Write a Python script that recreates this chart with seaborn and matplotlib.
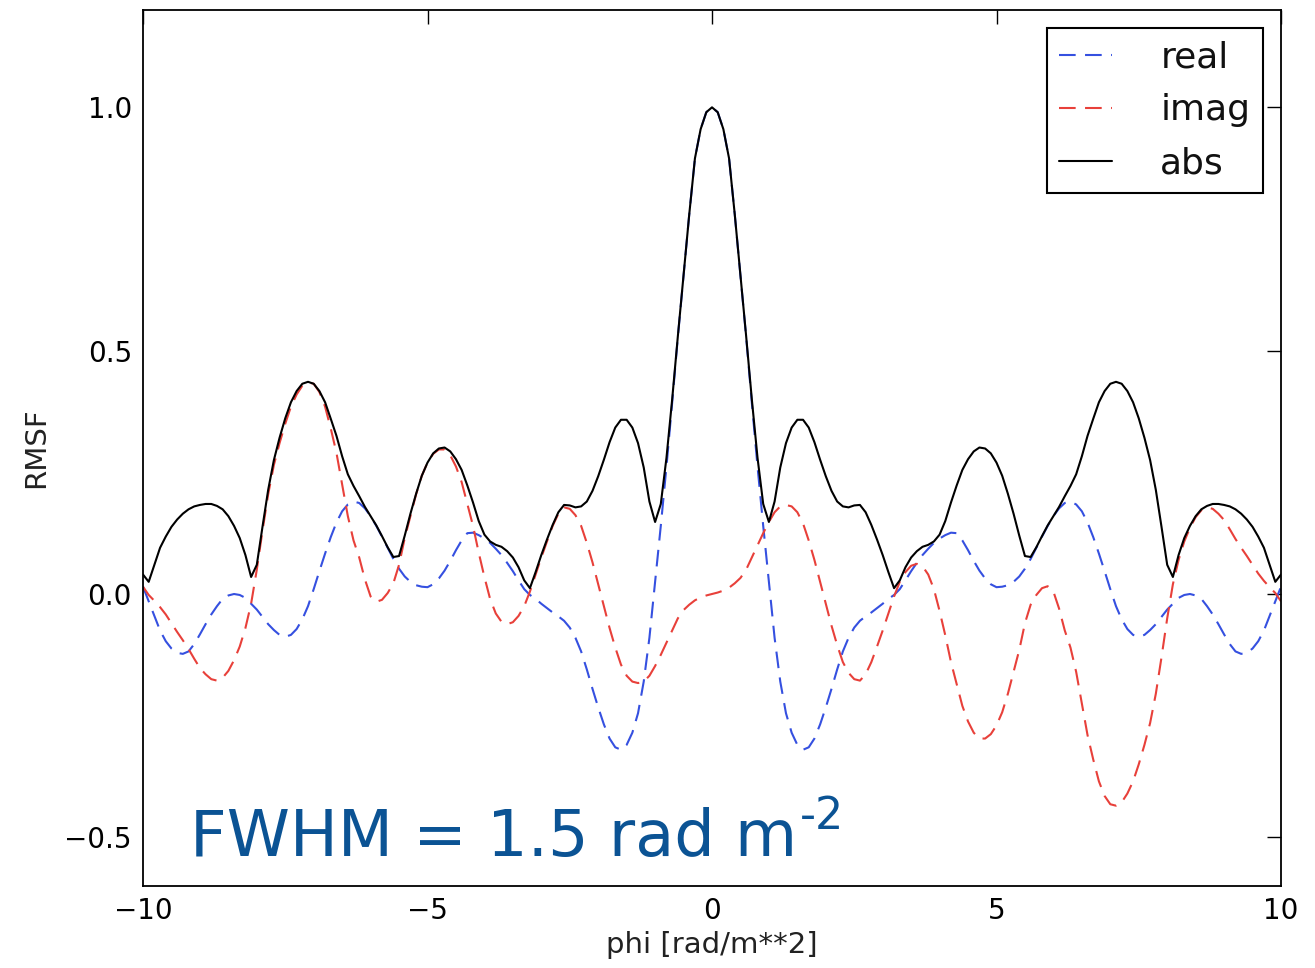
import numpy as np
import pandas as pd
import matplotlib
matplotlib.use("Agg")
import matplotlib.pyplot as plt
import seaborn as sns

# ---- data ----
phi = np.round(np.linspace(-10.0, 10.0, 201), 1)

real = [
    0.015, -0.015, -0.045, -0.075, -0.097, -0.112, -0.121, -0.123, -0.118, -0.103,
    -0.083, -0.062, -0.042, -0.025, -0.010, -0.003, 0.000, -0.002, -0.008, -0.020,
    -0.032, -0.047, -0.062, -0.074, -0.084, -0.088, -0.084, -0.072, -0.052, -0.025,
    0.010, 0.047, 0.083, 0.117, 0.147, 0.170, 0.184, 0.190, 0.187, 0.176,
    0.160, 0.140, 0.118, 0.095, 0.072, 0.052, 0.036, 0.025, 0.018, 0.015,
    0.014, 0.020, 0.032, 0.048, 0.068, 0.090, 0.110, 0.125, 0.126, 0.121,
    0.114, 0.105, 0.093, 0.080, 0.064, 0.047, 0.028, 0.010, -0.002, -0.010,
    -0.020, -0.029, -0.038, -0.046, -0.055, -0.069, -0.090, -0.118, -0.155, -0.195,
    -0.233, -0.268, -0.297, -0.315, -0.320, -0.310, -0.285, -0.245, -0.180, -0.090,
    0.025, 0.140, 0.262, 0.393, 0.528, 0.654, 0.780, 0.895, 0.955, 0.990,
    1.000,
    0.990, 0.955, 0.895, 0.780, 0.654, 0.528, 0.393, 0.262, 0.140, 0.025,
    -0.090, -0.180, -0.245, -0.285, -0.310, -0.320, -0.315, -0.297, -0.268, -0.233,
    -0.195, -0.155, -0.118, -0.090, -0.069, -0.055, -0.046, -0.038, -0.029, -0.020,
    -0.010, -0.002, 0.010, 0.028, 0.047, 0.064, 0.080, 0.093, 0.105, 0.114,
    0.121, 0.126, 0.125, 0.110, 0.090, 0.068, 0.048, 0.032, 0.020, 0.014,
    0.015, 0.018, 0.025, 0.036, 0.052, 0.072, 0.095, 0.118, 0.140, 0.160,
    0.176, 0.187, 0.190, 0.184, 0.170, 0.147, 0.117, 0.083, 0.047, 0.010,
    -0.025, -0.052, -0.072, -0.084, -0.088, -0.084, -0.074, -0.062, -0.047, -0.032,
    -0.020, -0.008, -0.002, 0.000, -0.003, -0.010, -0.025, -0.042, -0.062, -0.083,
    -0.103, -0.118, -0.123, -0.121, -0.112, -0.097, -0.075, -0.045, -0.015, 0.015,
]

imag = [
    0.015, -0.002, -0.014, -0.027, -0.042, -0.060, -0.078, -0.095, -0.113, -0.133,
    -0.152, -0.165, -0.175, -0.178, -0.172, -0.158, -0.136, -0.108, -0.070, -0.020,
    0.050, 0.130, 0.205, 0.265, 0.310, 0.350, 0.385, 0.410, 0.428, 0.435,
    0.432, 0.415, 0.385, 0.340, 0.290, 0.225, 0.160, 0.110, 0.075, 0.030,
    -0.005, -0.016, -0.012, 0.002, 0.022, 0.060, 0.115, 0.160, 0.205, 0.243,
    0.270, 0.288, 0.297, 0.297, 0.285, 0.262, 0.230, 0.185, 0.140, 0.085,
    0.035, -0.010, -0.040, -0.057, -0.062, -0.058, -0.045, -0.025, 0.005, 0.040,
    0.075, 0.108, 0.140, 0.165, 0.178, 0.175, 0.162, 0.140, 0.105, 0.065,
    0.020, -0.025, -0.070, -0.110, -0.145, -0.168, -0.180, -0.183, -0.180, -0.168,
    -0.148, -0.125, -0.100, -0.075, -0.050, -0.033, -0.022, -0.013, -0.007, -0.003,
    0.000,
    0.003, 0.007, 0.013, 0.022, 0.033, 0.050, 0.075, 0.100, 0.125, 0.148,
    0.168, 0.180, 0.183, 0.180, 0.168, 0.145, 0.110, 0.070, 0.025, -0.020,
    -0.065, -0.105, -0.140, -0.162, -0.175, -0.178, -0.165, -0.140, -0.108, -0.075,
    -0.040, -0.005, 0.025, 0.045, 0.058, 0.062, 0.057, 0.040, 0.010, -0.035,
    -0.085, -0.140, -0.185, -0.230, -0.262, -0.285, -0.297, -0.297, -0.288, -0.270,
    -0.243, -0.205, -0.160, -0.115, -0.060, -0.022, -0.002, 0.012, 0.016, 0.005,
    -0.030, -0.075, -0.110, -0.160, -0.225, -0.290, -0.340, -0.385, -0.415, -0.432,
    -0.435, -0.428, -0.410, -0.385, -0.350, -0.310, -0.265, -0.205, -0.130, -0.050,
    0.020, 0.070, 0.108, 0.136, 0.158, 0.172, 0.178, 0.175, 0.165, 0.152,
    0.133, 0.113, 0.095, 0.078, 0.060, 0.042, 0.027, 0.014, 0.002, -0.015,
]

absval = [
    0.040, 0.025, 0.060, 0.095, 0.118, 0.138, 0.153, 0.165, 0.174, 0.180,
    0.183, 0.185, 0.185, 0.181, 0.174, 0.160, 0.140, 0.115, 0.080, 0.035,
    0.060, 0.138, 0.214, 0.275, 0.321, 0.361, 0.394, 0.417, 0.432, 0.436,
    0.432, 0.417, 0.394, 0.360, 0.325, 0.283, 0.246, 0.222, 0.201, 0.179,
    0.160, 0.141, 0.119, 0.096, 0.076, 0.078, 0.120, 0.165, 0.206, 0.243,
    0.270, 0.289, 0.299, 0.301, 0.293, 0.277, 0.255, 0.223, 0.188, 0.150,
    0.122, 0.108, 0.101, 0.097, 0.088, 0.075, 0.055, 0.028, 0.012, 0.045,
    0.080, 0.112, 0.142, 0.168, 0.183, 0.182, 0.178, 0.180, 0.190, 0.212,
    0.242, 0.276, 0.312, 0.342, 0.358, 0.358, 0.342, 0.310, 0.260, 0.190,
    0.148, 0.185, 0.280, 0.400, 0.530, 0.655, 0.780, 0.895, 0.955, 0.990,
    1.000,
    0.990, 0.955, 0.895, 0.780, 0.655, 0.530, 0.400, 0.280, 0.185, 0.148,
    0.190, 0.260, 0.310, 0.342, 0.358, 0.358, 0.342, 0.312, 0.276, 0.242,
    0.212, 0.190, 0.180, 0.178, 0.182, 0.183, 0.168, 0.142, 0.112, 0.080,
    0.045, 0.012, 0.028, 0.055, 0.075, 0.088, 0.097, 0.101, 0.108, 0.122,
    0.150, 0.188, 0.223, 0.255, 0.277, 0.293, 0.301, 0.299, 0.289, 0.270,
    0.243, 0.206, 0.165, 0.120, 0.078, 0.076, 0.096, 0.119, 0.141, 0.160,
    0.179, 0.201, 0.222, 0.246, 0.283, 0.325, 0.360, 0.394, 0.417, 0.432,
    0.436, 0.432, 0.417, 0.394, 0.361, 0.321, 0.275, 0.214, 0.138, 0.060,
    0.035, 0.080, 0.115, 0.140, 0.160, 0.174, 0.181, 0.185, 0.185, 0.183,
    0.180, 0.174, 0.165, 0.153, 0.138, 0.118, 0.095, 0.060, 0.025, 0.040,
]

series_labels = ["real", "imag", "abs"]
x_ticks = [-10, -5, 0, 5, 10]
y_ticks = [-0.5, 0.0, 0.5, 1.0]
annotation = "FWHM = 1.5 rad m"
annotation_sup = "-2"

df = pd.DataFrame({"phi": phi, "real": real, "imag": imag, "abs": absval})

# ---- style ----
sns.set_theme(style="white")
plt.rcParams["font.family"] = ["DejaVu Sans"]

fig = plt.figure(figsize=(13.15, 9.68), dpi=100)
ax = fig.add_axes([143 / 1315, 1 - 886 / 968, (1281 - 143) / 1315, (886 - 10) / 968])

dash = (0, (8, 4.5))
sns.lineplot(data=df, x="phi", y="real", ax=ax, color="#3550e0", lw=1.5,
             linestyle=dash, label=series_labels[0])
sns.lineplot(data=df, x="phi", y="imag", ax=ax, color="#e8403a", lw=1.5,
             linestyle=dash, label=series_labels[1])
sns.lineplot(data=df, x="phi", y="abs", ax=ax, color="black", lw=1.5,
             label=series_labels[2])

ax.set_xlim(-10, 10)
ax.set_ylim(-0.6, 1.2)
ax.set_xticks(x_ticks)
ax.set_yticks(y_ticks)
ax.set_xlabel("phi [rad/m**2]", fontsize=21, labelpad=4, color="#222222")
ax.set_ylabel("RMSF", fontsize=21, labelpad=10, color="#222222")
ax.tick_params(direction="in", top=True, right=True, length=10, width=1,
               labelsize=20, pad=8, colors="black")
for sp in ax.spines.values():
    sp.set_color("black")
    sp.set_linewidth(1.3)
ax.grid(False)

leg = ax.legend(loc="upper right", fontsize=26, frameon=True, fancybox=False,
                framealpha=1, edgecolor="black", borderpad=0.35, handlelength=1.45,
                handletextpad=1.35, labelspacing=0.52, borderaxespad=0.5)
leg.get_frame().set_linewidth(1.5)
for txt in leg.get_texts():
    txt.set_color("#111111")

t = ax.text(0.0413, 0.034, annotation, transform=ax.transAxes, fontsize=46,
            color="#0b5394", va="baseline", ha="left")
ax.annotate(annotation_sup, xy=(1.0, 1.0), xycoords=t, xytext=(2, 9),
            textcoords="offset points", fontsize=32, color="#0b5394",
            va="top", ha="left")

fig.savefig("out.png", dpi=100)
